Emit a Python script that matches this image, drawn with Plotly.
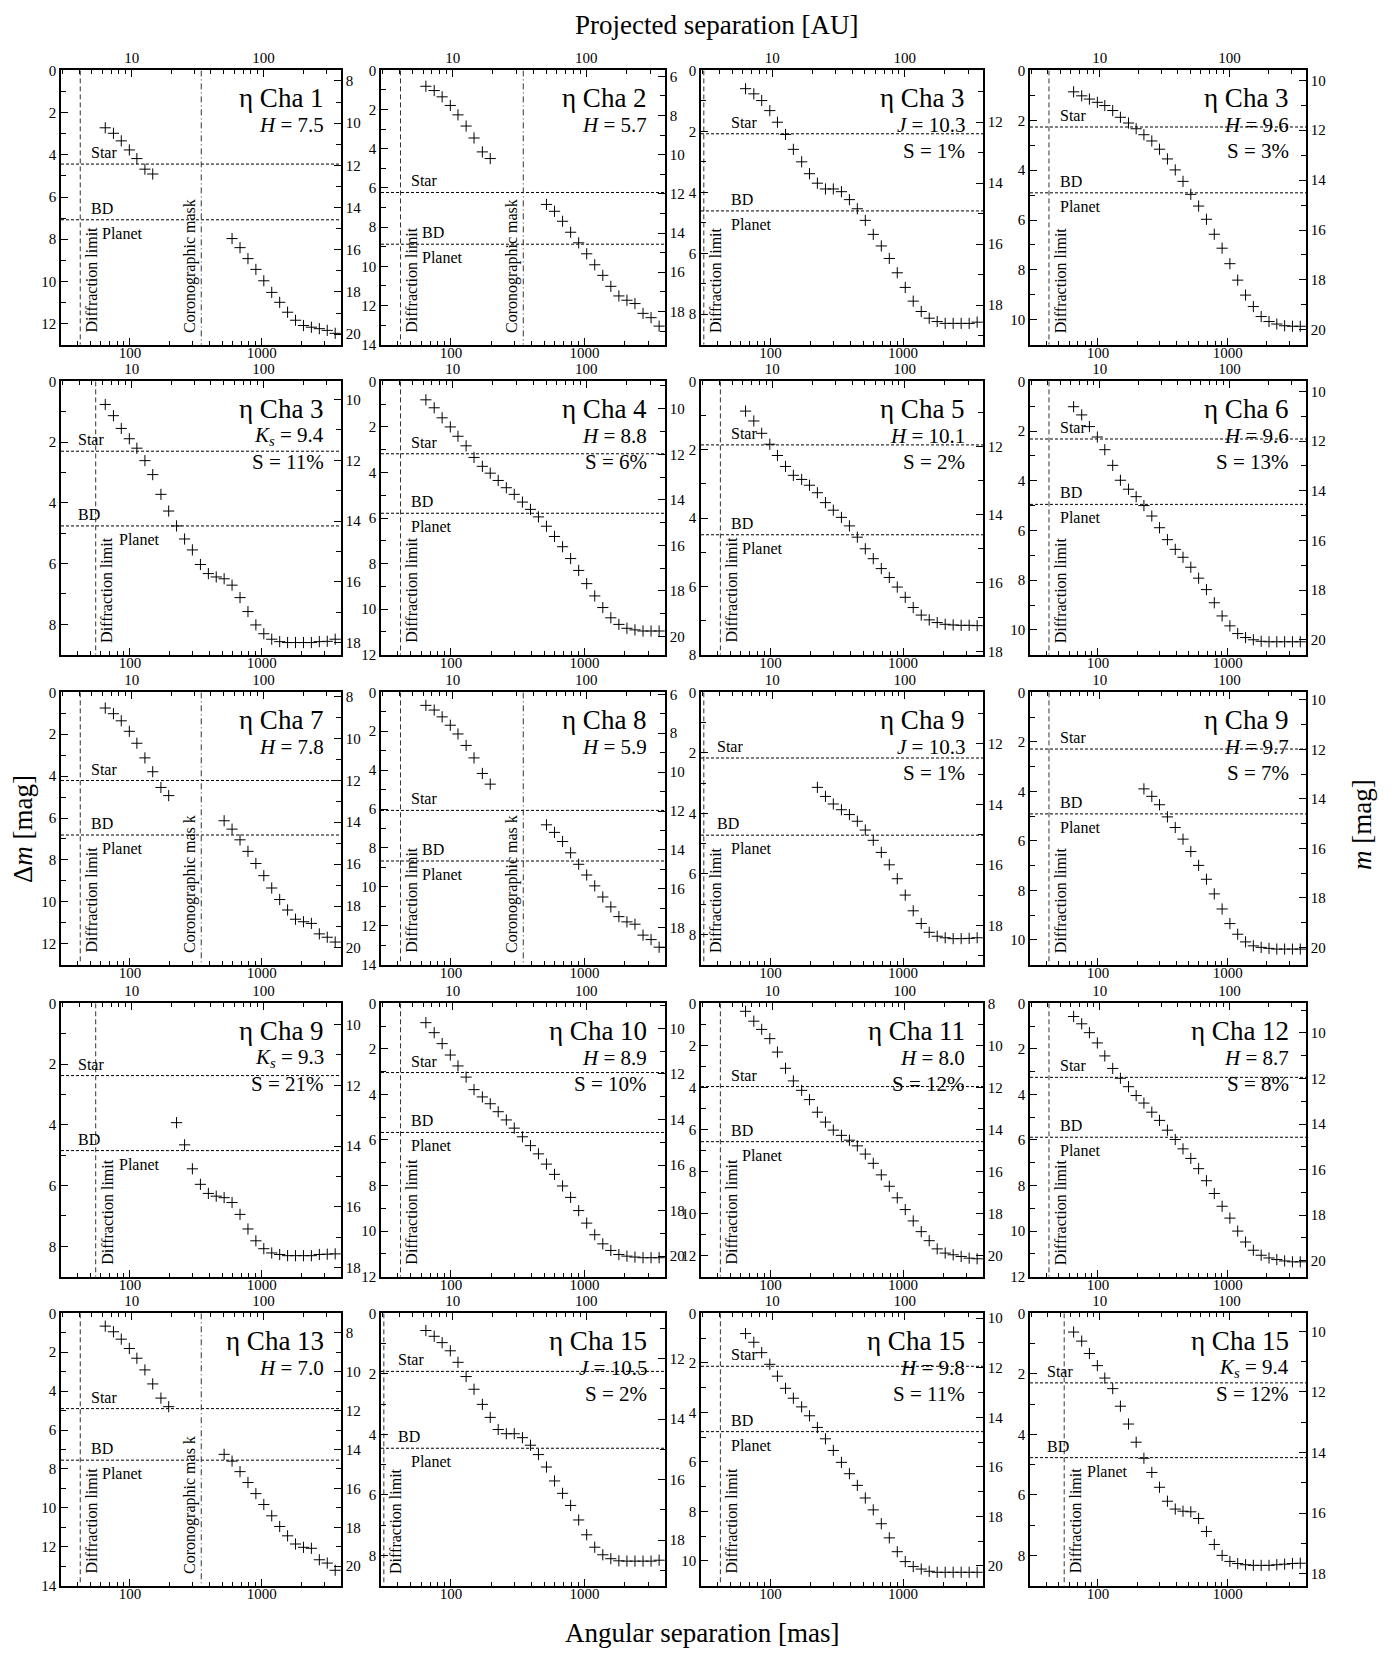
import math
import plotly.graph_objects as go

# ---------------- data ----------------
MAS_GRID = [65, 75, 86, 99, 113, 130, 149, 172, 197, 226, 260, 298, 343, 394, 452,
            519, 596, 685, 787, 904, 1038, 1192, 1370, 1573, 1807, 2076, 2384, 2739, 3146, 3614]
AU_PER_MAS = 0.097
X_MIN_MAS, X_MAX_MAS = 30, 4000

NAMES = ["η Cha 1", "η Cha 2", "η Cha 3", "η Cha 3", "η Cha 3", "η Cha 4", "η Cha 5", "η Cha 6",
         "η Cha 7", "η Cha 8", "η Cha 9", "η Cha 9", "η Cha 9", "η Cha 10", "η Cha 11", "η Cha 12",
         "η Cha 13", "η Cha 15", "η Cha 15", "η Cha 15"]
BANDS = ["H", "H", "J", "H", "Ks", "H", "H", "H", "H", "H", "J", "H", "Ks", "H", "H", "H", "H", "J", "H", "Ks"]
MAGS = [7.5, 5.7, 10.3, 9.6, 9.4, 8.8, 10.1, 9.6, 7.8, 5.9, 10.3, 9.7, 9.3, 8.9, 8.0, 8.7, 7.0, 10.5, 9.8, 9.4]
STREHL = [None, None, 1, 3, 11, 6, 2, 13, None, None, 1, 7, 21, 10, 12, 8, None, 2, 11, 12]
STAR_LIMIT = [4.44, 6.23, 2.08, 2.27, 2.30, 3.18, 1.86, 2.32, 4.21, 6.07,
              2.17, 2.29, 2.38, 3.04, 3.96, 3.25, 4.90, 1.92, 2.14, 2.30]
BD_LIMIT = [7.08, 8.87, 4.61, 4.91, 4.76, 5.79, 4.49, 4.95, 6.81, 8.67,
            4.72, 4.91, 4.85, 5.67, 6.58, 5.88, 7.55, 4.46, 4.78, 4.77]
DM_MAX = [13, 14, 9, 11, 9, 12, 8, 11, 13, 14, 9, 11, 9, 12, 13, 12, 14, 9, 11, 9]
DIFF_LIMIT_MAS = {"J": 31.5, "H": 42, "Ks": 55}
CORONA_MAS = 348
CORONA_PANELS = {0: "Coronographic mask", 1: "Coronographic mask", 8: "Coronographic mas k",
                 9: "Coronographic mas k", 16: "Coronographic mas k"}

CHA1_H_A = [2.72, 2.98, 3.34, 3.77, 4.18, 4.68, 4.91]
CHA1_H_B = [7.97, 8.40, 8.92, 9.43, 9.97, 10.52, 10.99, 11.46, 11.84, 12.09, 12.17, 12.24, 12.32, 12.46]
CHA2_H_A = [0.81, 1.03, 1.35, 1.79, 2.27, 2.84, 3.45, 4.16, 4.50]
CHA2_H_B = [6.84, 7.19, 7.70, 8.26, 8.80, 9.36, 9.92, 10.46, 11.02, 11.51, 11.73, 11.90, 12.40, 12.62, 13.05]
CHA3_J = [0.60, 0.77, 0.99, 1.32, 1.70, 2.10, 2.59, 3.00, 3.39, 3.70, 3.89, 3.89, 3.98, 4.24, 4.54,
          4.92, 5.38, 5.76, 6.17, 6.64, 7.12, 7.57, 7.91, 8.13, 8.24, 8.30, 8.30, 8.30, 8.30, 8.26]
CHA3_H = [0.86, 1.02, 1.15, 1.28, 1.41, 1.61, 1.88, 2.11, 2.34, 2.58, 2.83, 3.16, 3.55, 3.99, 4.45,
          4.97, 5.44, 5.97, 6.57, 7.13, 7.75, 8.41, 9.01, 9.47, 9.87, 10.07, 10.17, 10.24, 10.26, 10.26]
CHA3_K = [0.76, 1.13, 1.55, 1.89, 2.20, 2.61, 3.07, 3.72, 4.27, 4.76, 5.19, 5.55, 6.03, 6.33, 6.44,
          6.50, 6.71, 7.12, 7.58, 8.02, 8.31, 8.49, 8.57, 8.60, 8.60, 8.60, 8.60, 8.57, 8.56, 8.49]
CHA4_H = [0.81, 1.16, 1.60, 2.00, 2.41, 2.83, 3.34, 3.73, 4.03, 4.35, 4.67, 4.96, 5.30, 5.62, 5.95,
          6.36, 6.81, 7.26, 7.78, 8.30, 8.88, 9.42, 9.93, 10.38, 10.67, 10.84, 10.91, 10.96, 10.96, 10.96]
CHA5_H = [0.87, 1.16, 1.52, 1.84, 2.17, 2.49, 2.75, 2.87, 3.04, 3.26, 3.55, 3.77, 3.98, 4.23, 4.56,
          4.90, 5.19, 5.48, 5.74, 6.02, 6.32, 6.62, 6.84, 6.98, 7.06, 7.11, 7.13, 7.14, 7.14, 7.15]
CHA6_H = [1.02, 1.35, 1.82, 2.24, 2.75, 3.38, 3.98, 4.34, 4.64, 5.00, 5.42, 5.89, 6.37, 6.76, 7.08,
          7.48, 7.92, 8.38, 8.91, 9.44, 9.84, 10.15, 10.31, 10.40, 10.46, 10.48, 10.48, 10.48, 10.48, 10.48]
CHA7_H_A = [0.75, 1.02, 1.36, 1.86, 2.43, 3.13, 3.79, 4.54, 4.93]
CHA7_H_B = [6.13, 6.53, 7.04, 7.59, 8.17, 8.75, 9.34, 9.89, 10.39, 10.83, 10.95, 11.03, 11.53, 11.69, 11.92]
CHA8_H_A = [0.67, 0.91, 1.26, 1.69, 2.14, 2.73, 3.37, 4.17, 4.72]
CHA8_H_B = [6.81, 7.20, 7.67, 8.25, 8.84, 9.39, 9.95, 10.52, 11.03, 11.53, 11.80, 11.92, 12.48, 12.71, 13.10]
CHA9_J = [3.14, 3.44, 3.69, 3.88, 4.04, 4.26, 4.55, 4.89, 5.29, 5.70, 6.16, 6.70, 7.22, 7.64, 7.93,
          8.06, 8.11, 8.14, 8.14, 8.13, 8.11]
CHA9_H = [3.90, 4.20, 4.54, 5.03, 5.46, 5.93, 6.43, 6.99, 7.55, 8.14, 8.75, 9.34, 9.77, 10.08, 10.24,
          10.30, 10.34, 10.37, 10.37, 10.37, 10.37]
CHA9_K = [3.93, 4.66, 5.45, 5.96, 6.26, 6.35, 6.40, 6.56, 6.95, 7.43, 7.82, 8.08, 8.22, 8.27, 8.31,
          8.31, 8.31, 8.31, 8.27, 8.26, 8.25]
CHA10_H = [0.85, 1.29, 1.77, 2.27, 2.75, 3.24, 3.79, 4.11, 4.41, 4.76, 5.12, 5.48, 5.86, 6.25, 6.61,
           7.06, 7.51, 8.02, 8.52, 9.10, 9.65, 10.16, 10.56, 10.85, 11.03, 11.10, 11.14, 11.17, 11.17, 11.17]
CHA11_H = [0.38, 0.85, 1.24, 1.68, 2.32, 3.09, 3.69, 4.14, 4.58, 5.18, 5.65, 6.03, 6.28, 6.51, 6.78,
           7.17, 7.61, 8.16, 8.70, 9.25, 9.81, 10.35, 10.86, 11.29, 11.68, 11.88, 11.96, 12.04, 12.12, 12.15]
CHA12_H = [0.58, 0.90, 1.29, 1.74, 2.31, 2.86, 3.29, 3.66, 4.05, 4.38, 4.78, 5.14, 5.57, 5.98, 6.39,
           6.81, 7.26, 7.79, 8.35, 8.91, 9.43, 10.00, 10.48, 10.84, 11.06, 11.18, 11.25, 11.31, 11.35, 11.35]
CHA13_H_A = [0.66, 0.95, 1.33, 1.81, 2.31, 2.91, 3.63, 4.36, 4.80]
CHA13_H_B = [7.25, 7.60, 8.14, 8.70, 9.27, 9.83, 10.41, 10.96, 11.44, 11.86, 12.03, 12.08, 12.67, 12.84, 13.21]
CHA15_J = [0.57, 0.76, 0.97, 1.24, 1.62, 2.09, 2.51, 3.01, 3.44, 3.84, 3.98, 3.98, 4.11, 4.36, 4.67,
           5.08, 5.54, 5.95, 6.35, 6.83, 7.32, 7.73, 7.98, 8.11, 8.18, 8.19, 8.19, 8.19, 8.19, 8.16]
CHA15_H = [0.82, 1.17, 1.59, 2.06, 2.54, 3.03, 3.43, 3.78, 4.14, 4.61, 5.07, 5.54, 6.02, 6.48, 6.95,
           7.46, 7.94, 8.50, 9.07, 9.63, 10.03, 10.23, 10.33, 10.42, 10.46, 10.46, 10.46, 10.46, 10.46, 10.46]
CHA15_K = [0.62, 0.92, 1.33, 1.73, 2.14, 2.49, 3.07, 3.66, 4.26, 4.79, 5.26, 5.75, 6.21, 6.47, 6.54,
           6.56, 6.78, 7.21, 7.64, 8.00, 8.20, 8.27, 8.31, 8.33, 8.33, 8.33, 8.31, 8.29, 8.27, 8.26]

# each panel: list of (curve, index of its first point in MAS_GRID)
CURVES = [
    [(CHA1_H_A, 0), (CHA1_H_B, 16)], [(CHA2_H_A, 0), (CHA2_H_B, 15)],
    [(CHA3_J, 0)], [(CHA3_H, 0)],
    [(CHA3_K, 0)], [(CHA4_H, 0)], [(CHA5_H, 0)], [(CHA6_H, 0)],
    [(CHA7_H_A, 0), (CHA7_H_B, 15)], [(CHA8_H_A, 0), (CHA8_H_B, 15)], [(CHA9_J, 9)], [(CHA9_H, 9)],
    [(CHA9_K, 9)], [(CHA10_H, 0)], [(CHA11_H, 0)], [(CHA12_H, 0)],
    [(CHA13_H_A, 0), (CHA13_H_B, 15)], [(CHA15_J, 0)], [(CHA15_H, 0)], [(CHA15_K, 0)],
]

BOTTOM_TICKS = [100, 1000]
BOTTOM_MINOR = [40, 50, 60, 70, 80, 90, 200, 300, 400, 500, 600, 700, 800, 900, 2000, 3000]
TOP_TICKS = [10, 100]
TOP_MINOR = [3, 4, 5, 6, 7, 8, 9, 20, 30, 40, 50, 60, 70, 80, 90, 200, 300]

# ---------------- layout geometry (pixels) ----------------
W, H = 1400, 1659
COL_X = [(61, 341), (381, 665), (701, 983), (1030, 1306)]
ROW_Y = [(63, 340), (377, 653), (691, 966), (1005, 1281), (1318, 1593)]
STAR_X = [0.10, 0.10, 0.098, 0.10, 0.053, 0.10, 0.098, 0.10, 0.10, 0.10,
          0.049, 0.10, 0.053, 0.10, 0.10, 0.10, 0.10, 0.052, 0.10, 0.054]
BD_X = [0.10, 0.138, 0.098, 0.10, 0.053, 0.10, 0.098, 0.10, 0.10, 0.138,
        0.049, 0.10, 0.053, 0.10, 0.10, 0.10, 0.10, 0.052, 0.10, 0.054]
PLANET_X = [0.138, 0.138, 0.098, 0.10, 0.20, 0.10, 0.138, 0.10, 0.138, 0.138,
            0.098, 0.10, 0.20, 0.10, 0.138, 0.10, 0.138, 0.10, 0.10, 0.20]

FONT = "Liberation Serif"
BLACK = "black"


def aid(letter, n):
    return letter if n == 1 else f"{letter}{n}"


fig = go.Figure()
layout = dict(width=W, height=H, autosize=False, margin=dict(l=0, r=0, t=0, b=0),
              showlegend=False, plot_bgcolor="white", paper_bgcolor="white",
              font=dict(family=FONT, color=BLACK))
annotations = []

common_axis = dict(showline=True, linecolor=BLACK, linewidth=1.5, showgrid=False, zeroline=False,
                   tickfont=dict(family=FONT, size=15, color=BLACK), tickcolor=BLACK)

for i in range(20):
    r, c = divmod(i, 4)
    nb, nt = 2 * i + 1, 2 * i + 2
    xb, xt, yl, yr = aid("x", nb), aid("x", nt), aid("y", nb), aid("y", nt)
    xd = [COL_X[c][0] / W, COL_X[c][1] / W]
    yd = [1 - ROW_Y[r][1] / H, 1 - ROW_Y[r][0] / H]
    mag = MAGS[i]
    dmax = DM_MAX[i]

    layout[aid("xaxis", nb)] = dict(common_axis, type="log", domain=xd, anchor=yl,
                                   range=[math.log10(X_MIN_MAS), math.log10(X_MAX_MAS)],
                                   tickmode="array", tickvals=BOTTOM_TICKS,
                                   ticktext=[str(v) for v in BOTTOM_TICKS],
                                   ticks="inside", ticklen=7, ticklabelstandoff=-6,
                                   minor=dict(tickmode="array", tickvals=BOTTOM_MINOR, ticks="inside",
                                              ticklen=4, tickcolor=BLACK))
    layout[aid("xaxis", nt)] = dict(common_axis, type="log", overlaying=xb, anchor=yl, side="top",
                                   range=[math.log10(X_MIN_MAS * AU_PER_MAS),
                                          math.log10(X_MAX_MAS * AU_PER_MAS)],
                                   tickmode="array", tickvals=TOP_TICKS,
                                   ticktext=[str(v) for v in TOP_TICKS],
                                   ticks="inside", ticklen=7,
                                   minor=dict(tickmode="array", tickvals=TOP_MINOR, ticks="inside",
                                              ticklen=4, tickcolor=BLACK))
    layout[aid("yaxis", nb)] = dict(common_axis, domain=yd, anchor=xb, range=[dmax, 0],
                                   tick0=0, dtick=2, ticks="inside", ticklen=7,
                                   minor=dict(dtick=1, ticks="inside", ticklen=5, tickcolor=BLACK))
    layout[aid("yaxis", nt)] = dict(common_axis, overlaying=yl, anchor=xb, side="right",
                                   range=[dmax + mag, mag], tick0=0, dtick=2,
                                   ticks="inside", ticklen=7,
                                   minor=dict(dtick=1, ticks="inside", ticklen=5, tickcolor=BLACK))

    # dummy trace so the overlay axes exist
    fig.add_trace(go.Scatter(x=[None], y=[None], xaxis=xt, yaxis=yr, mode="markers",
                             hoverinfo="skip"))

    # limits
    for lim in (STAR_LIMIT[i], BD_LIMIT[i]):
        fig.add_trace(go.Scatter(x=[X_MIN_MAS, X_MAX_MAS], y=[lim, lim], mode="lines",
                                 line=dict(color=BLACK, width=1, dash="3px,2px"),
                                 xaxis=xb, yaxis=yl, hoverinfo="skip"))
    dl = DIFF_LIMIT_MAS[BANDS[i]]
    fig.add_trace(go.Scatter(x=[dl, dl], y=[0, dmax], mode="lines",
                             line=dict(color="#333333", width=1, dash="5px,3px"),
                             xaxis=xb, yaxis=yl, hoverinfo="skip"))
    if i in CORONA_PANELS:
        fig.add_trace(go.Scatter(x=[CORONA_MAS, CORONA_MAS], y=[0, dmax], mode="lines",
                                 line=dict(color="#333333", width=1, dash="6px,3px,1px,3px"),
                                 xaxis=xb, yaxis=yl, hoverinfo="skip"))

    # contrast curve points
    for curve, start in CURVES[i]:
        fig.add_trace(go.Scatter(x=MAS_GRID[start:start + len(curve)], y=curve, mode="markers",
                                 marker=dict(symbol="cross-thin", size=8, color=BLACK,
                                             line=dict(width=1, color=BLACK)),
                                 xaxis=xb, yaxis=yl))

    xdom, ydom = f"{xb} domain", f"{yl} domain"
    # panel title + magnitude + strehl
    annotations.append(dict(text=NAMES[i], xref=xdom, yref=ydom, x=0.945, y=0.9,
                            xanchor="right", yanchor="middle", showarrow=False,
                            font=dict(family=FONT, size=27, color=BLACK)))
    band_txt = {"H": "<i>H</i>", "J": "<i>J</i>", "Ks": "<i>K<sub>s</sub></i>"}[BANDS[i]]
    annotations.append(dict(text=f"{band_txt} = {mag:.1f}", xref=xdom, yref=ydom, x=0.945, y=0.80,
                            xanchor="right", yanchor="middle", showarrow=False,
                            font=dict(family=FONT, size=21, color=BLACK)))
    if STREHL[i] is not None:
        annotations.append(dict(text=f"S = {STREHL[i]}%", xref=xdom, yref=ydom, x=0.945, y=0.705,
                                xanchor="right", yanchor="middle", showarrow=False,
                                font=dict(family=FONT, size=21, color=BLACK)))
    lab_font = dict(family=FONT, size=16, color=BLACK)
    annotations.append(dict(text="Star", xref=xdom, yref=yl, x=STAR_X[i], y=STAR_LIMIT[i],
                            xanchor="left", yanchor="bottom", yshift=1, showarrow=False, font=lab_font))
    annotations.append(dict(text="BD", xref=xdom, yref=yl, x=BD_X[i], y=BD_LIMIT[i],
                            xanchor="left", yanchor="bottom", yshift=1, showarrow=False, font=lab_font))
    annotations.append(dict(text="Planet", xref=xdom, yref=yl, x=PLANET_X[i], y=BD_LIMIT[i],
                            xanchor="left", yanchor="top", yshift=-3, showarrow=False, font=lab_font))
    annotations.append(dict(text="Diffraction limit", xref=xb, yref=ydom, x=math.log10(dl), y=0,
                            xanchor="left", yanchor="bottom", xshift=1, yshift=10, textangle=-90,
                            showarrow=False, font=lab_font))
    if i in CORONA_PANELS:
        annotations.append(dict(text=CORONA_PANELS[i], xref=xb, yref=ydom, x=math.log10(CORONA_MAS),
                                y=0, xanchor="right", yanchor="bottom", xshift=-1, yshift=10,
                                textangle=-90, showarrow=False, font=lab_font))

# global axis titles
title_font = dict(family=FONT, size=27, color=BLACK)
annotations += [
    dict(text="Projected separation [AU]", xref="paper", yref="paper", x=716 / W, y=1 - 17 / H,
         xanchor="center", yanchor="middle", showarrow=False, font=title_font),
    dict(text="Angular separation [mas]", xref="paper", yref="paper", x=702 / W, y=1 - 1641 / H,
         xanchor="center", yanchor="middle", showarrow=False, font=title_font),
    dict(text="Δ<i>m</i> [mag]", xref="paper", yref="paper", x=23 / W, y=1 - 829 / H,
         xanchor="center", yanchor="middle", textangle=-90, showarrow=False, font=title_font),
    dict(text="<i>m</i> [mag]", xref="paper", yref="paper", x=1362 / W, y=1 - 825 / H,
         xanchor="center", yanchor="middle", textangle=-90, showarrow=False, font=title_font),
]
layout["annotations"] = annotations
fig.update_layout(**layout)
fig.write_html("out.html")
